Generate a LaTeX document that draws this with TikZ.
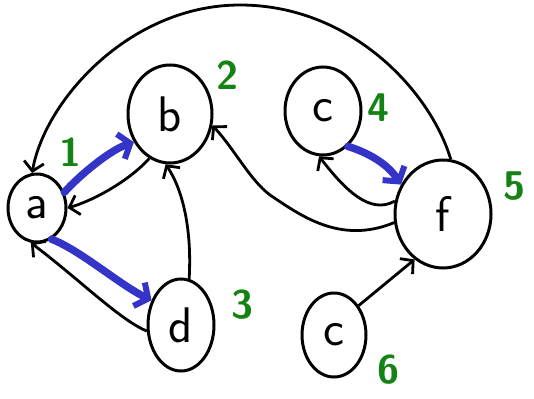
\documentclass[tikz,border=0pt]{standalone}
\usetikzlibrary{shapes.geometric,arrows.meta}
\definecolor{penblue}{RGB}{52,52,200}
\definecolor{pengreen}{RGB}{20,130,20}
\tikzset{
  vtx/.style={ellipse, draw, line width=3pt, inner sep=0pt, font=\fontsize{50}{50}\sffamily},
  edge/.style={draw, line width=2.8pt, -{Straight Barb[length=9pt,width=20pt,line width=2.8pt]}},
  hl/.style={draw=penblue, line width=7.5pt, line cap=round, -{Straight Barb[length=10pt,width=26pt,line width=6pt]}},
  num/.style={text=pengreen, font=\fontsize{40}{40}\sffamily\bfseries}
}
\begin{document}
\begin{tikzpicture}[x=1pt,y=-1pt]
\useasboundingbox[fill=white] (0,0) rectangle (534,398);
\node[vtx, minimum width=58, minimum height=68] (a) at (37,208) {a};
\node[vtx, minimum width=84, minimum height=98] (b) at (170,114) {b};
\node[vtx, minimum width=76, minimum height=88] (c) at (323,111) {c};
\node[vtx, minimum width=96, minimum height=108] (f) at (443,214) {f};
\node[vtx, minimum width=66, minimum height=92] (d) at (181,325) {d};
\node[vtx, minimum width=64, minimum height=84] (e) at (334,335) {c};
\node[num] (n1) at (70,152) {1};
\node[num] (n2) at (227,75) {2};
\node[num] (n3) at (242,305) {3};
\node[num] (n4) at (378,108) {4};
\node[num] (n5) at (514,186) {5};
\node[num] (n6) at (388,370) {6};
% black edges
\draw[edge] (f.82) .. controls (430,90) and (350,5) .. (240,5) .. controls (130,5) and (45,100) .. (a.98);
\draw[edge] (b.245) .. controls (130,180) and (95,200) .. (a.east);
\draw[edge] (d.190) .. controls (120,320) and (80,280) .. (a.260);
\draw[edge] (d.80) .. controls (192,230) and (183,190) .. (b.265);
\draw[edge] (f.190) .. controls (340,245) and (300,215) .. (270,195) .. controls (250,180) and (235,150) .. (b.-15);
\draw[edge] (f.165) .. controls (370,215) and (345,190) .. (c.265);
\draw[edge] (e.50) -- (f.238);
% blue highlights
\draw[hl] (a.30) .. controls (80,175) and (110,150) .. (b.218);
\draw[hl] (a.-65) .. controls (80,250) and (120,285) .. (d.140);
\draw[hl] (c.-55) .. controls (360,150) and (385,160) .. (f.145);
\end{tikzpicture}
\end{document}
